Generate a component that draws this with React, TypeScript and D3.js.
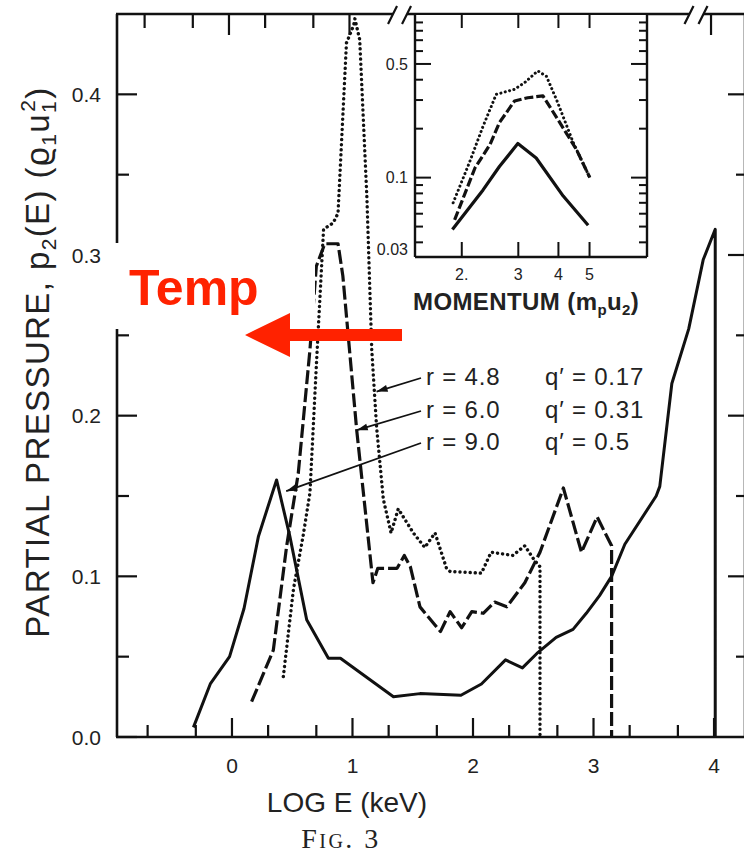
import React from "react";
import * as d3 from "d3";

// ---- Main panel data: LOG E (keV) vs partial pressure ----
const solidE = [-0.32, -0.18, -0.02, 0.1, 0.22, 0.37, 0.48, 0.62, 0.8, 0.9, 1.34, 1.56, 1.9, 2.07, 2.27, 2.41, 2.53, 2.69, 2.83, 2.94, 3.05, 3.15, 3.26, 3.52, 3.55, 3.65, 3.79, 3.91, 4.01, 4.01];
const solidP = [0.006, 0.033, 0.05, 0.08, 0.125, 0.16, 0.125, 0.073, 0.049, 0.049, 0.025, 0.027, 0.026, 0.033, 0.048, 0.043, 0.052, 0.062, 0.067, 0.077, 0.088, 0.1, 0.12, 0.15, 0.156, 0.22, 0.254, 0.297, 0.316, 0];

const dashE = [0.163, 0.343, 0.454, 0.55, 0.647, 0.7, 0.77, 0.88, 0.92, 1.035, 1.17, 1.21, 1.37, 1.43, 1.48, 1.56, 1.73, 1.81, 1.906, 1.99, 2.085, 2.18, 2.28, 2.43, 2.556, 2.75, 2.9, 3.03, 3.15, 3.15];
const dashP = [0.022, 0.054, 0.119, 0.164, 0.241, 0.293, 0.307, 0.307, 0.287, 0.191, 0.096, 0.105, 0.105, 0.113, 0.106, 0.081, 0.0656, 0.078, 0.068, 0.078, 0.077, 0.084, 0.081, 0.096, 0.115, 0.155, 0.115, 0.137, 0.119, 0];

const dotE = [0.426, 0.51, 0.59, 0.647, 0.7, 0.76, 0.84, 0.88, 0.95, 1.01, 1.02, 1.06, 1.12, 1.16, 1.2, 1.256, 1.32, 1.38, 1.505, 1.6, 1.685, 1.78, 1.81, 2.07, 2.15, 2.33, 2.43, 2.51, 2.556, 2.556];
const dotP = [0.0376, 0.092, 0.125, 0.152, 0.231, 0.316, 0.32, 0.326, 0.432, 0.443, 0.447, 0.434, 0.335, 0.241, 0.193, 0.148, 0.127, 0.142, 0.127, 0.118, 0.127, 0.105, 0.103, 0.102, 0.115, 0.113, 0.119, 0.11, 0.106, 0];

// ---- Inset data: momentum vs value (log-log) ----
const insetSolidM = [1.87, 2.33, 2.62, 2.99, 3.41, 4.14, 4.95];
const insetSolidV = [0.048, 0.084, 0.117, 0.162, 0.132, 0.077, 0.051];
const insetDashM = [1.9, 2.2, 2.45, 2.62, 2.92, 3.21, 3.58, 4.04, 4.55, 5.01];
const insetDashV = [0.055, 0.115, 0.16, 0.218, 0.296, 0.31, 0.318, 0.218, 0.149, 0.1];
const insetDotM = [1.88, 2.11, 2.33, 2.56, 2.92, 3.14, 3.45, 3.67, 3.95, 4.45, 5.01];
const insetDotV = [0.07, 0.123, 0.207, 0.325, 0.349, 0.384, 0.453, 0.42, 0.3, 0.164, 0.1];

// ---- Ticks ----
const yMajor = [0, 0.1, 0.2, 0.3, 0.4];
const yMajorLabels = ["0.0", "0.1", "0.2", "0.3", "0.4"];
const yMinor = [0.05, 0.15, 0.25, 0.35];
const xMajor = [0, 1, 2, 3, 4];
const xMajorLabels = ["0", "1", "2", "3", "4"];
const xMinor = [-0.7, -0.3, 0.3, 0.7, 1.3, 1.7, 2.3, 2.7, 3.3, 3.7];
const topMajor = [0, 1, 4];
const topMinor = [-0.7, -0.3, 0.3, 0.7];
const rightTicks = [0.05, 0.1, 0.15, 0.2, 0.25, 0.3, 0.35, 0.4];
const breakE = [1.27, 3.73];

const insetXTicks = [2, 3, 4, 5];
const insetXLabels = ["2.", "3", "4", "5"];
const insetYMinor = [0.04, 0.05, 0.06, 0.07, 0.08, 0.09, 0.2, 0.3, 0.4, 0.6, 0.7, 0.8, 0.9];
const insetYMajor = [0.1, 0.5];
const insetYLabelVals = [0.5, 0.1, 0.0325];
const insetYLabels = ["0.5", "0.1", "0.03"];

// ---- Legend annotations ----
const legendR = ["4.8", "6.0", "9.0"];
const legendQ = ["0.17", "0.31", "0.5"];
const leaderTipE = [1.2, 1.035, 0.45];
const leaderTipP = [0.215, 0.191, 0.153];

const SANS = "'Liberation Sans', Arial, Helvetica, sans-serif";
const SERIF = "'Liberation Serif', 'Times New Roman', serif";
const RED = "#ff2200";

type Pt = [number, number];
const zip = (a: number[], b: number[]): Pt[] => a.map((v, i) => [v, b[i]] as Pt);

export default function App() {
  const x = d3.scaleLinear().domain([-0.954, 4.257]).range([117, 745]);
  const y = d3.scaleLinear().domain([0, 0.45]).range([737, 14]);
  const ix = d3.scaleLog().domain([1.43, 7.55]).range([415, 647]);
  const iy = d3.scaleLog().domain([0.0325, 1]).range([257, 15]);

  const mainLine = d3.line<Pt>().x((d) => x(d[0])).y((d) => y(d[1]));
  const insetLine = d3.line<Pt>().x((d) => ix(d[0])).y((d) => iy(d[1]));

  const top = y(0.45);
  const bottom = y(0);
  const left = x(-0.954);
  const right = x(4.257);

  const legendRowY = [385, 418, 450];

  const arrowHead = (x0: number, y0: number, x1: number, y1: number) => {
    const a = Math.atan2(y1 - y0, x1 - x0);
    const L = 11, w = 3.5;
    const bx = x1 - L * Math.cos(a), by = y1 - L * Math.sin(a);
    const px = -Math.sin(a) * w, py = Math.cos(a) * w;
    return `M${x1},${y1}L${bx + px},${by + py}L${bx - px},${by - py}Z`;
  };

  return (
    <div>
      <style>{`body{margin:0;background:#fff}`}</style>
      <svg width={744} height={855} viewBox="0 0 744 855" style={{ display: "block", background: "#fff" }}>
        {/* frame */}
        <g stroke="#111" strokeWidth={2.6} fill="none">
          <line x1={left} y1={top} x2={left} y2={bottom} />
          <line x1={left - 1} y1={bottom} x2={right} y2={bottom} />
          <line x1={left - 1} y1={top} x2={right} y2={top} />
          <line x1={right} y1={top} x2={right} y2={bottom} />
        </g>
        {/* ticks */}
        <g stroke="#111" strokeWidth={2.2}>
          {yMajor.map((v) => (
            <line key={"ym" + v} x1={left} x2={left + 20} y1={y(v)} y2={y(v)} />
          ))}
          {yMinor.map((v) => (
            <line key={"yn" + v} x1={left} x2={left + 12} y1={y(v)} y2={y(v)} />
          ))}
          {rightTicks.map((v, i) => (
            <line key={"r" + v} x1={right} x2={right - (i % 2 === 1 ? 17 : 9)} y1={y(v)} y2={y(v)} />
          ))}
          {xMajor.map((v) => (
            <line key={"xm" + v} x1={x(v)} x2={x(v)} y1={bottom} y2={bottom - 19} />
          ))}
          {xMinor.map((v) => (
            <line key={"xn" + v} x1={x(v)} x2={x(v)} y1={bottom} y2={bottom - 12} />
          ))}
          {topMajor.map((v) => (
            <line key={"tm" + v} x1={x(v) - 3} x2={x(v) - 3} y1={top} y2={top + 21} />
          ))}
          {topMinor.map((v) => (
            <line key={"tn" + v} x1={x(v) - 3} x2={x(v) - 3} y1={top} y2={top + 14} />
          ))}
        </g>
        {/* tick labels */}
        <g fontFamily={SANS} fontSize={21} fill="#222" textAnchor="end">
          {yMajor.map((v, i) => (
            <text key={"yl" + v} x={101} y={y(v)} dy="0.36em">
              {yMajorLabels[i]}
            </text>
          ))}
        </g>
        <g fontFamily={SANS} fontSize={21} fill="#222" textAnchor="middle">
          {xMajor.map((v, i) => (
            <text key={"xl" + v} x={x(v)} y={773}>
              {xMajorLabels[i]}
            </text>
          ))}
        </g>

        {/* main curves */}
        <path d={mainLine(zip(solidE, solidP)) || ""} fill="none" stroke="#111" strokeWidth={3} strokeLinejoin="round" />
        <path d={mainLine(zip(dashE, dashP)) || ""} fill="none" stroke="#111" strokeWidth={3.2} strokeDasharray="14,4" strokeLinejoin="round" />
        <path d={mainLine(zip(dotE, dotP)) || ""} fill="none" stroke="#111" strokeWidth={3.4} strokeDasharray="0.1,5" strokeLinecap="round" strokeLinejoin="round" />

        {/* inset */}
        <rect x={ix(1.43)} y={iy(1)} width={ix(7.55) - ix(1.43)} height={iy(0.0325) - iy(1)} fill="#fff" stroke="none" />
        <g stroke="#111" strokeWidth={2.4} fill="none">
          <line x1={ix(1.43)} y1={iy(1)} x2={ix(1.43)} y2={iy(0.0325)} />
          <line x1={ix(7.55)} y1={iy(1)} x2={ix(7.55)} y2={iy(0.0325)} />
          <line x1={ix(1.43)} y1={iy(0.0325)} x2={ix(7.55)} y2={iy(0.0325)} />
        </g>
        <g stroke="#111" strokeWidth={2}>
          {insetYMinor.map((v) => (
            <g key={"iym" + v}>
              <line x1={ix(1.43)} x2={ix(1.43) + 8} y1={iy(v)} y2={iy(v)} />
              <line x1={ix(7.55)} x2={ix(7.55) - 8} y1={iy(v)} y2={iy(v)} />
            </g>
          ))}
          {insetYMajor.map((v) => (
            <g key={"iyM" + v}>
              <line x1={ix(1.43)} x2={ix(1.43) + 16} y1={iy(v)} y2={iy(v)} />
              <line x1={ix(7.55)} x2={ix(7.55) - 16} y1={iy(v)} y2={iy(v)} />
            </g>
          ))}
          {insetXTicks.map((v) => (
            <g key={"ixt" + v}>
              <line x1={ix(v)} x2={ix(v)} y1={iy(0.0325)} y2={iy(0.0325) - 15} />
              <line x1={ix(v)} x2={ix(v)} y1={iy(1)} y2={iy(1) + 13} />
            </g>
          ))}
        </g>
        <g fontFamily={SANS} fontSize={16} fill="#222" textAnchor="end">
          {insetYLabelVals.map((v, i) => (
            <text key={"iyl" + v} x={408} y={iy(v)} dy={i === 2 ? "-0.15em" : "0.36em"}>
              {insetYLabels[i]}
            </text>
          ))}
        </g>
        <g fontFamily={SANS} fontSize={16} fill="#222" textAnchor="middle">
          {insetXTicks.map((v, i) => (
            <text key={"ixl" + v} x={ix(v)} y={280}>
              {insetXLabels[i]}
            </text>
          ))}
        </g>
        <text x={413} y={310} fontFamily={SANS} fontSize={24} fontWeight="bold" letterSpacing={0.4} fill="#222">
          MOMENTUM (m
          <tspan fontSize={15} dy={5}>p</tspan>
          <tspan dy={-5}>u</tspan>
          <tspan fontSize={15} dy={5}>2</tspan>
          <tspan dy={-5}>)</tspan>
        </text>
        <path d={insetLine(zip(insetSolidM, insetSolidV)) || ""} fill="none" stroke="#111" strokeWidth={3.2} strokeLinejoin="round" />
        <path d={insetLine(zip(insetDashM, insetDashV)) || ""} fill="none" stroke="#111" strokeWidth={3.2} strokeDasharray="9,3" strokeLinejoin="round" />
        <path d={insetLine(zip(insetDotM, insetDotV)) || ""} fill="none" stroke="#111" strokeWidth={3} strokeDasharray="0.1,4.4" strokeLinecap="round" />

        {/* break marks on top border */}
        {breakE.map((v) => {
          const cx = x(v) + 15;
          return (
            <g key={"br" + v}>
              <rect x={cx - 7} y={top - 3} width={14} height={6} fill="#fff" />
              <line x1={cx - 12} y1={top + 10} x2={cx - 3} y2={top - 8} stroke="#111" strokeWidth={2.2} />
              <line x1={cx + 2} y1={top + 10} x2={cx + 11} y2={top - 8} stroke="#111" strokeWidth={2.2} />
            </g>
          );
        })}

        {/* legend annotations */}
        {legendR.map((r, i) => {
          const x0 = 421, y0 = legendRowY[i] - 7;
          const x1 = x(leaderTipE[i]), y1 = y(leaderTipP[i]);
          return (
            <g key={"lg" + r}>
              <line x1={x0} y1={y0} x2={x1} y2={y1} stroke="#111" strokeWidth={1.8} />
              <path d={arrowHead(x0, y0, x1, y1)} fill="#111" />
              <text x={426} y={legendRowY[i]} fontFamily={SANS} fontSize={24} letterSpacing={0.8} fill="#222">
                r = {r}
              </text>
              <text x={545} y={legendRowY[i]} fontFamily={SANS} fontSize={24} letterSpacing={0.8} fill="#222">
                q′ = {legendQ[i]}
              </text>
            </g>
          );
        })}

        {/* axis titles */}
        <text transform="translate(49,362) rotate(-90)" textAnchor="middle" fontFamily={SANS} fontSize={33} letterSpacing={1.4} fill="#222">
          PARTIAL PRESSURE, p
          <tspan fontSize={21} dy={7}>2</tspan>
          <tspan dy={-7}>(E) (ϱ</tspan>
          <tspan fontSize={21} dy={7}>1</tspan>
          <tspan dy={-7}>u</tspan>
          <tspan fontSize={21} dy={7}>1</tspan>
          <tspan fontSize={21} dx={-12} dy={-21}>2</tspan>
          <tspan dy={14}>)</tspan>
        </text>
        <text x={347} y={812} textAnchor="middle" fontFamily={SANS} fontSize={28} fill="#222">
          LOG E (keV)
        </text>
        <text x={341} y={848} textAnchor="middle" fontFamily={SERIF} fontSize={28} letterSpacing={2.5} fill="#222" style={{ fontVariant: "small-caps" }}>
          Fig. 3
        </text>

        {/* overlay: white box, Temp label, red arrow */}
        <rect x={105} y={243} width={210} height={86} fill="#fff" />
        <text x={129} y={305} fontFamily={SANS} fontSize={50} fontWeight="bold" fill={RED}>
          Temp
        </text>
        <path d="M245,335 L290,313 L290,329 L402,329 L402,341 L290,341 L290,357 Z" fill={RED} />
      </svg>
    </div>
  );
}
